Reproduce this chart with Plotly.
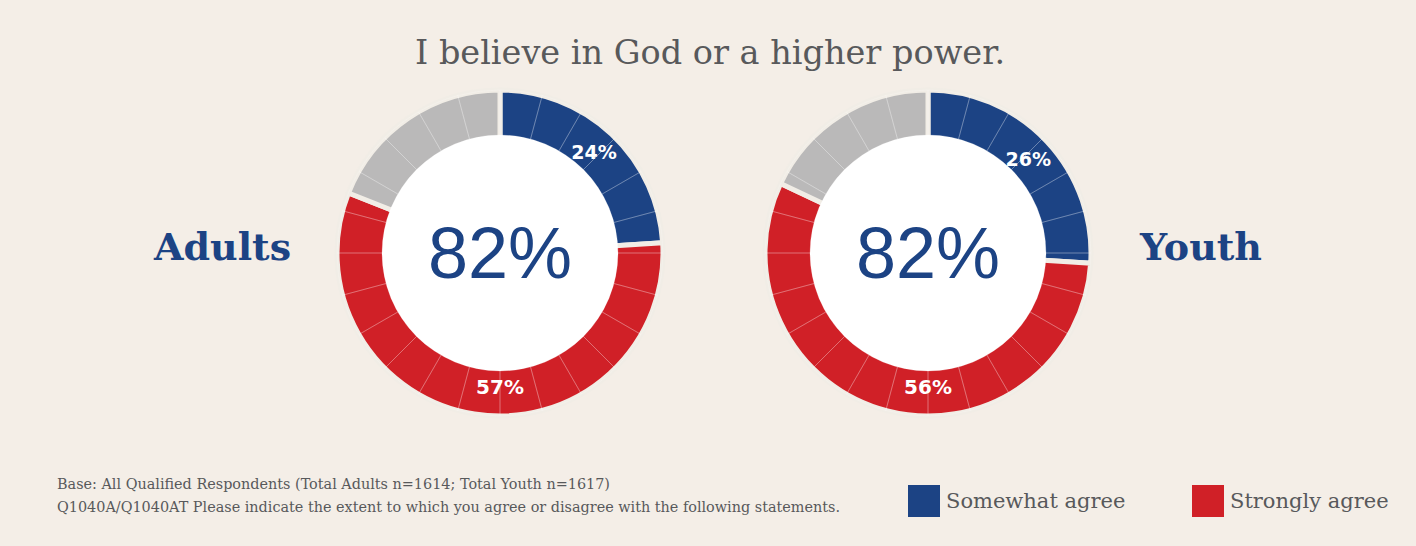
import plotly.graph_objects as go

# ---- data ----
groups = ["Adults", "Youth"]
categories = ["Somewhat agree", "Strongly agree", "Other"]
adults_values = [24, 57, 19]
youth_values = [26, 56, 18]
total_agree = ["82%", "82%"]
category_colors = ["#1C4384", "#D02027", "#BAB9B9"]
legend_labels = ["Somewhat agree", "Strongly agree"]
title_text = "I believe in God or a higher power."
footnote_lines = [
    "Base: All Qualified Respondents (Total Adults n=1614; Total Youth n=1617)",
    "Q1040A/Q1040AT Please indicate the extent to which you agree or disagree with the following statements.",
]
n_ticks = 24

W, H = 1416, 546
BG = "#F4EEE7"
GAP = "#F1EDE6"
BLUE = category_colors[0]
GRAY_TXT = "#58595B"

centers = [(500, 253), (928, 253)]
R_OUT = 163
R_IN = 118


def dom(cx, cy, r):
    return dict(x=[(cx - r) / W, (cx + r) / W], y=[1 - (cy + r) / H, 1 - (cy - r) / H])


def py(y):
    return 1 - y / H


fig = go.Figure()
series = [adults_values, youth_values]
for (cx, cy), vals in zip(centers, series):
    # main donut
    txt = [f"{v}%" if i < 2 else "" for i, v in enumerate(vals)]
    fig.add_trace(go.Pie(values=vals, labels=categories, domain=dom(cx, cy, R_OUT),
                         hole=(R_IN - 6) / R_OUT, sort=False, direction="clockwise", rotation=0,
                         marker=dict(colors=category_colors, line=dict(color=GAP, width=5)),
                         text=txt, textinfo="text", textposition="inside",
                         insidetextorientation="horizontal",
                         textfont=dict(family="DejaVu Sans", size=20, color="white", weight="bold"),
                         showlegend=False, hoverinfo="label+value"))
    # white inner disc (covers inner edge strokes)
    fig.add_trace(go.Pie(values=[1], labels=["center"], domain=dom(cx, cy, R_IN),
                         marker=dict(colors=["#FFFFFF"], line=dict(width=0)),
                         textinfo="none", hoverinfo="skip", showlegend=False, sort=False))
    # thin subdivision lines
    fig.add_trace(go.Pie(values=[1] * n_ticks, domain=dom(cx, cy, R_OUT),
                         hole=R_IN / R_OUT, sort=False, direction="clockwise", rotation=0,
                         marker=dict(colors=["rgba(0,0,0,0)"] * n_ticks,
                                     line=dict(color="rgba(255,255,255,0.25)", width=0.8)),
                         textinfo="none", hoverinfo="skip", showlegend=False))

annotations = []
for (cx, cy), t in zip(centers, total_agree):
    annotations.append(dict(x=cx / W, y=py(cy), xref="paper", yref="paper", text=t,
                            xanchor="center", yanchor="middle", showarrow=False,
                            font=dict(family="Liberation Sans", size=72, color=BLUE)))

annotations.append(dict(x=222 / W, y=py(247), xref="paper", yref="paper", text=groups[0],
                        xanchor="center", yanchor="middle", showarrow=False,
                        font=dict(family="DejaVu Serif", size=38, color=BLUE, weight="bold")))
annotations.append(dict(x=1200 / W, y=py(247), xref="paper", yref="paper", text=groups[1],
                        xanchor="center", yanchor="middle", showarrow=False,
                        font=dict(family="DejaVu Serif", size=38, color=BLUE, weight="bold")))
annotations.append(dict(x=710 / W, y=py(52), xref="paper", yref="paper", text=title_text,
                        xanchor="center", yanchor="middle", showarrow=False,
                        font=dict(family="DejaVu Serif", size=33.5, color=GRAY_TXT)))
for i, line in enumerate(footnote_lines):
    annotations.append(dict(x=55 / W, y=py(484 + 23 * i), xref="paper", yref="paper",
                            text=line, showarrow=False, xanchor="left", yanchor="middle",
                            font=dict(family="DejaVu Serif", size=14.4, color=GRAY_TXT)))

shapes = []
legend_x = [908, 1192]
for lx, lab, col in zip(legend_x, legend_labels, category_colors[:2]):
    shapes.append(dict(type="rect", xref="paper", yref="paper",
                       x0=lx / W, x1=(lx + 32) / W, y0=py(517), y1=py(485),
                       fillcolor=col, line=dict(width=0)))
    annotations.append(dict(x=(lx + 36) / W, y=py(501), xref="paper", yref="paper", text=lab,
                            showarrow=False, xanchor="left", yanchor="middle",
                            font=dict(family="DejaVu Serif", size=21, color=GRAY_TXT)))

fig.update_layout(width=W, height=H, margin=dict(l=0, r=0, t=0, b=0),
                  paper_bgcolor=BG, plot_bgcolor=BG, showlegend=False,
                  annotations=annotations, shapes=shapes)

fig.write_html("out.html", config={"displayModeBar": False},
               post_script="document.body.style.margin='0';document.body.style.background='%s';" % BG)
